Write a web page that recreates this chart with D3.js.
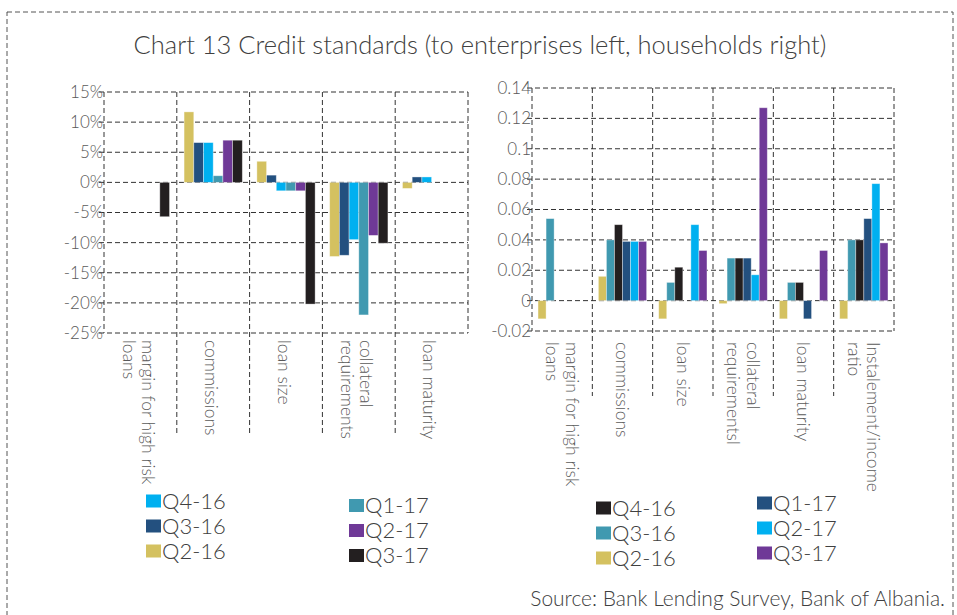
<!DOCTYPE html>
<html>
<head>
<meta charset="utf-8">
<script src="https://cdn.jsdelivr.net/npm/d3@7"></script>
<style>
  body { margin: 0; background: #fff; }
  svg text { font-family: Lato, "Open Sans", sans-serif; font-weight: 300; }
</style>
</head>
<body>
<svg id="chart" width="957" height="615"></svg>
<script>
// enterprises (left panel)
const entCategories = ["margin for high risk\nloans", "commissions", "loan size", "collateral\nrequirements", "loan maturity"];
const entSeries = ["Q2-16", "Q3-16", "Q4-16", "Q1-17", "Q2-17", "Q3-17"];
const entQ2_16 = [0, 11.7, 3.5, -12.3, -1.0];
const entQ3_16 = [0, 6.6, 1.2, -12.1, 0.9];
const entQ4_16 = [0, 6.6, -1.4, -9.5, 0.9];
const entQ1_17 = [0, 1.1, -1.4, -22.0, 0];
const entQ2_17 = [0, 7.0, -1.4, -8.8, 0];
const entQ3_17 = [-5.7, 7.0, -20.2, -10.1, 0];
const entTicks = [-25, -20, -15, -10, -5, 0, 5, 10, 15];
const entTickLabels = ["-25%", "-20%", "-15%", "-10%", "-5%", "0%", "5%", "10%", "15%"];

// households (right panel)
const hhCategories = ["margin for high risk\nloans", "commissions", "loan size", "collateral\nrequirementsl", "loan maturity", "Instalement/income\nratio"];
const hhSeries = ["Q2-16", "Q3-16", "Q4-16", "Q1-17", "Q2-17", "Q3-17"];
const hhQ2_16 = [-0.012, 0.016, -0.012, -0.002, -0.012, -0.012];
const hhQ3_16 = [0.054, 0.040, 0.012, 0.028, 0.012, 0.040];
const hhQ4_16 = [0, 0.050, 0.022, 0.028, 0.012, 0.040];
const hhQ1_17 = [0, 0.039, 0, 0.028, -0.012, 0.054];
const hhQ2_17 = [0, 0.039, 0.050, 0.017, 0, 0.077];
const hhQ3_17 = [0, 0.039, 0.033, 0.127, 0.033, 0.038];
const hhTicks = [-0.02, 0, 0.02, 0.04, 0.06, 0.08, 0.1, 0.12, 0.14];
const hhTickLabels = ["-0.02", "0", "0.02", "0.04", "0.06", "0.08", "0.1", "0.12", "0.14"];

// legend order as it appears (two columns of three)
const entLegend = [["Q4-16", "Q3-16", "Q2-16"], ["Q1-17", "Q2-17", "Q3-17"]];
const hhLegend = [["Q4-16", "Q3-16", "Q2-16"], ["Q1-17", "Q2-17", "Q3-17"]];

const entColors = {
  "Q2-16": "#d4c160", "Q3-16": "#23507f", "Q4-16": "#00b0f0",
  "Q1-17": "#4099b0", "Q2-17": "#6f3997", "Q3-17": "#231f20"
};
const hhColors = {
  "Q2-16": "#d4c160", "Q3-16": "#4099b0", "Q4-16": "#231f20",
  "Q1-17": "#23507f", "Q2-17": "#00b0f0", "Q3-17": "#6f3997"
};

const svg = d3.select("#chart");
const dash = "5,3";
const gridColor = "#333";

// outer dashed frame
svg.append("rect")
  .attr("x", 7).attr("y", 12)
  .attr("width", 946).attr("height", 620)
  .attr("fill", "none").attr("stroke", "#555")
  .attr("stroke-dasharray", dash);

// fit a text element to a target width
function fitWidth(sel, w) {
  const size = parseFloat(sel.attr("font-size"));
  const len = sel.node().getComputedTextLength();
  sel.attr("font-size", size * w / len);
}

const title = svg.append("text")
  .attr("x", 480).attr("y", 54)
  .attr("text-anchor", "middle")
  .attr("font-size", 22)
  .attr("fill", "#404040")
  .text("Chart 13 Credit standards (to enterprises left, households right)");
fitWidth(title, 693);

const source = svg.append("text")
  .attr("x", 945).attr("y", 606)
  .attr("text-anchor", "end")
  .attr("font-size", 17)
  .attr("fill", "#404040")
  .text("Source: Bank Lending Survey, Bank of Albania.");
fitWidth(source, 415);

function drawPanel(p) {
  const g = svg.append("g");
  const x = d3.scaleBand().domain(p.categories).range([p.left, p.right]);
  const inner = d3.scaleBand().domain(p.series)
    .range([x.bandwidth() * 0.1, x.bandwidth() * 0.9]);
  const y = d3.scaleLinear().domain(p.yDomain).range([p.bottom, p.top]);

  // horizontal dashed gridlines
  g.selectAll(".hgrid").data(p.ticks).join("line")
    .attr("x1", p.left - 5).attr("x2", p.right)
    .attr("y1", d => y(d)).attr("y2", d => y(d))
    .attr("stroke", gridColor).attr("stroke-dasharray", dash);

  // y axis + right frame
  g.append("line")
    .attr("x1", p.left).attr("x2", p.left)
    .attr("y1", p.top).attr("y2", p.bottom)
    .attr("stroke", gridColor).attr("stroke-dasharray", dash);
  g.append("line")
    .attr("x1", p.right).attr("x2", p.right)
    .attr("y1", p.top).attr("y2", p.bottom)
    .attr("stroke", gridColor).attr("stroke-dasharray", dash);

  // category separators, running down into the label area
  const seps = p.categories.slice(1);
  g.selectAll(".vgrid").data(seps).join("line")
    .attr("x1", d => x(d)).attr("x2", d => x(d))
    .attr("y1", p.top).attr("y2", p.sepBottom)
    .attr("stroke", gridColor).attr("stroke-dasharray", dash);

  // tick labels
  g.selectAll(".ytick").data(p.ticks).join("text")
    .attr("x", p.left - 1)
    .attr("y", d => y(d))
    .attr("dy", "0.35em")
    .attr("text-anchor", "end")
    .attr("font-size", 17)
    .attr("fill", "#595959")
    .text((d, i) => p.tickLabels[i]);

  // bars
  p.series.forEach((s, si) => {
    const vals = p.values[si];
    g.selectAll(null)
      .data(p.categories.map((c, ci) => ({ c, v: vals[ci] })).filter(d => d.v !== 0))
      .join("rect")
      .attr("x", d => x(d.c) + inner(s))
      .attr("width", inner.bandwidth())
      .attr("y", d => y(Math.max(0, d.v)))
      .attr("height", d => Math.abs(y(d.v) - y(0)))
      .attr("fill", p.colors[s])
      .attr("stroke", "#fff").attr("stroke-opacity", 0.45).attr("stroke-width", 0.8);
  });

  // rotated category labels
  p.categories.forEach(c => {
    const lines = c.split("\n");
    const t = g.append("text")
      .attr("transform", `translate(${x(c) + x.bandwidth() / 2 + p.labelShift},${p.bottom + p.labelGap}) rotate(90)`)
      .attr("font-size", 17.5)
      .attr("fill", "#595959");
    lines.forEach((ln, i) => {
      t.append("tspan")
        .attr("x", 0)
        .attr("y", 0)
        .attr("dy", (0.35 + (i - (lines.length - 1) / 2) * 1.1) + "em")
        .text(ln);
    });
  });

  // legend
  p.legend.forEach((col, ci) => {
    col.forEach((s, ri) => {
      const lx = p.legendX[ci];
      const ly = p.legendY[ci] + ri * 25;
      g.append("rect")
        .attr("x", lx).attr("y", ly - 6.5)
        .attr("width", 15).attr("height", 13)
        .attr("fill", p.colors[s]);
      g.append("text")
        .attr("x", lx + 16).attr("y", ly)
        .attr("dy", "0.36em")
        .attr("font-size", 22)
        .attr("fill", "#404040")
        .text(s);
    });
  });
}

drawPanel({
  categories: entCategories, series: entSeries,
  values: [entQ2_16, entQ3_16, entQ4_16, entQ1_17, entQ2_17, entQ3_17],
  colors: entColors,
  yDomain: [-25, 15], ticks: entTicks, tickLabels: entTickLabels,
  left: 104, right: 468, top: 92, bottom: 333,
  sepBottom: 436, labelGap: 7, labelShift: -2,
  legend: entLegend, legendX: [146, 349], legendY: [501, 505.5]
});

drawPanel({
  categories: hhCategories, series: hhSeries,
  values: [hhQ2_16, hhQ3_16, hhQ4_16, hhQ1_17, hhQ2_17, hhQ3_17],
  colors: hhColors,
  yDomain: [-0.02, 0.14], ticks: hhTicks, tickLabels: hhTickLabels,
  left: 532, right: 894, top: 88, bottom: 331,
  sepBottom: 396, labelGap: 11, labelShift: 0,
  legend: hhLegend, legendX: [596, 757], legendY: [508, 503]
});
</script>
</body>
</html>
